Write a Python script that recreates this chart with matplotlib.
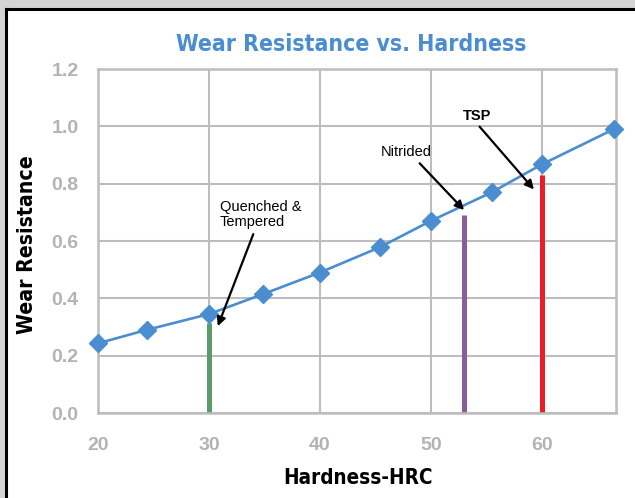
import matplotlib
matplotlib.use("Agg")
import matplotlib.pyplot as plt
from matplotlib.patches import Rectangle
from matplotlib.lines import Line2D

# ---- data ----
hardness = [20, 24.4, 30, 34.9, 40, 45.4, 50, 55.5, 60, 66.5]
wear = [0.243, 0.29, 0.345, 0.415, 0.49, 0.578, 0.67, 0.77, 0.867, 0.99]

treat_names = ["Quenched &\nTempered", "Nitrided", "TSP"]
treat_hrc = [30, 53.0, 60]
treat_wear = [0.315, 0.69, 0.83]
treat_colors = ["#5b9a69", "#8a5c9c", "#ee1c25"]

x_ticks = [20, 30, 40, 50, 60]
y_ticks = [0.0, 0.2, 0.4, 0.6, 0.8, 1.0, 1.2]

BLUE = "#4a8dd0"
GRID = "#bdbdbd"
TICK = "#b3b3b3"
SANS = ["Liberation Sans", "DejaVu Sans"]

W, H = 635, 498
fig = plt.figure(figsize=(W / 100, H / 100), dpi=100)
fig.patch.set_facecolor("white")

# frame decoration (gray margin + black border)
fig.patches.append(Rectangle((0, 1 - 8 / H), 1, 8 / H, transform=fig.transFigure,
                             facecolor="#d4d4d4", edgecolor="none", zorder=0))
fig.patches.append(Rectangle((0, 0), 4.5 / W, 1, transform=fig.transFigure,
                             facecolor="#d4d4d4", edgecolor="none", zorder=0))
fig.lines.append(Line2D([5.5 / W, 1], [1 - 9.5 / H, 1 - 9.5 / H], transform=fig.transFigure,
                        color="black", lw=2.2))
fig.lines.append(Line2D([5.5 / W, 5.5 / W], [0, 1 - 9.5 / H], transform=fig.transFigure,
                        color="black", lw=2.2))

ax = fig.add_axes([98 / W, 1 - 413 / H, (616 - 98) / W, (413 - 69) / H])
ax.set_xlim(20, 66.7)
ax.set_ylim(0, 1.2)
ax.set_xticks(x_ticks)
ax.set_yticks(y_ticks)
ax.set_xticklabels([str(t) for t in x_ticks])
ax.set_yticklabels([f"{t:.1f}" for t in y_ticks])
ax.grid(True, color=GRID, lw=1.5, zorder=0)
ax.set_axisbelow(True)
for s in ax.spines.values():
    s.set_color(GRID)
    s.set_linewidth(1.8)
ax.tick_params(length=0, colors=TICK, labelsize=14)
ax.tick_params(axis="x", pad=17)
ax.tick_params(axis="y", pad=14)
for lab in ax.get_xticklabels() + ax.get_yticklabels():
    lab.set_fontfamily(SANS)
    lab.set_fontweight("bold")

# treatment bars
for hx, hy, c in zip(treat_hrc, treat_wear, treat_colors):
    ax.vlines(hx, 0, hy, color=c, lw=3.6, zorder=2)

# main series
ax.plot(hardness, wear, color=BLUE, lw=1.9, marker="D", ms=9,
        markerfacecolor=BLUE, markeredgecolor=BLUE, zorder=3, clip_on=False)

# annotations
arrow = dict(arrowstyle="-|>", color="black", lw=1.6, mutation_scale=13,
             shrinkA=0, shrinkB=0)
ax.annotate("", xy=(30.8, 0.303), xytext=(34.0, 0.624), arrowprops=arrow, zorder=4)
ax.text(31.0, 0.693, treat_names[0], ha="left", va="center", fontsize=10.5,
        family=SANS, linespacing=1.05)
ax.annotate("", xy=(53.0, 0.708), xytext=(49.0, 0.871), arrowprops=arrow, zorder=4)
ax.text(47.8, 0.91, treat_names[1], ha="center", va="center", fontsize=10.5, family=SANS)
ax.annotate("", xy=(59.3, 0.78), xytext=(54.4, 0.999), arrowprops=arrow, zorder=4)
ax.text(54.2, 1.036, treat_names[2], ha="center", va="center", fontsize=10.5,
        family=SANS, fontweight="bold")

# titles
fig.text(351 / W, 1 - 44.5 / H, "Wear Resistance vs. Hardness", ha="center", va="center",
         color=BLUE, fontsize=16.5, fontweight="bold", family="DejaVu Sans",
         fontstretch="condensed")
fig.text(357.7 / W, 1 - 478 / H, "Hardness-HRC", ha="center", va="center",
         color="black", fontsize=14.8, fontweight="bold", family="DejaVu Sans",
         fontstretch="condensed")
fig.text(27 / W, 1 - 245 / H, "Wear Resistance", ha="center", va="center", rotation=90,
         color="black", fontsize=15.2, fontweight="bold", family="DejaVu Sans",
         fontstretch="condensed")

fig.savefig("out.png", dpi=100)
